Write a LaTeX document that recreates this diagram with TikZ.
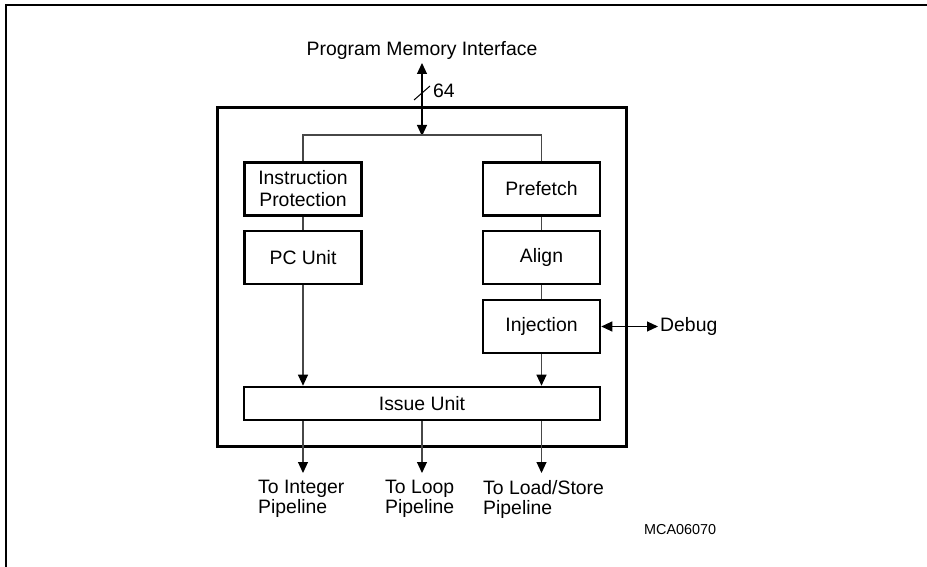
\documentclass[tikz,border=0pt]{standalone}
\usepackage{fontspec}
\setmainfont{Liberation Sans}
\usetikzlibrary{arrows.meta}
\begin{document}
\begin{tikzpicture}[x=1pt,y=-1pt,
  box/.style={draw=black,line width=2.6pt,minimum width=117pt,minimum height=53pt,inner sep=0pt,align=center,font=\fontsize{19.4}{22}\selectfont},
  conn/.style={draw=black!72,line width=1.1pt},
  tip/.style={-{Triangle[length=11pt,width=10pt,color=black]}},
  dtip/.style={{Triangle[length=11pt,width=10pt,color=black]}-{Triangle[length=11pt,width=10pt,color=black]}},
  lbl/.style={font=\fontsize{19.4}{20}\selectfont,inner sep=0pt,align=left}]
\useasboundingbox (0,0) rectangle (927,567);
% page frame (top and left only)
\draw[line width=2pt] (6,567) -- (6,5) -- (927,5);
% outer block
\node[draw,line width=3pt,minimum width=409pt,minimum height=338pt,inner sep=0pt] (outer) at (421.5,277) {};
% boxes
\node[box] (ip) at (303,189) {Instruction\\Protection};
\node[box] (pf) at (541.5,189) {Prefetch};
\node[box] (pc) at (303,257.5) {PC Unit};
\node[box] (al) at (541.5,257.5) {Align};
\node[box] (inj) at (541.5,326.5) {Injection};
\node[box,minimum width=356pt,minimum height=33pt] (iss) at (422,403.5) {Issue Unit};
% labels
\node[lbl] (pmi) at (422,50) {Program Memory Interface};
\node[lbl,anchor=west] (w64) at (433,91) {64};
\node[lbl,anchor=west] (dbg) at (660,326.5) {Debug};
\node[lbl,anchor=west] (tint) at (258,499) {To Integer\\[0pt]Pipeline};
\node[lbl,anchor=west] (tloop) at (385,499) {To Loop\\[0pt]Pipeline};
\node[lbl,anchor=west] (tls) at (483,499) {To Load/Store\\[0pt]Pipeline};
\node[font=\fontsize{14.4}{16}\selectfont,inner sep=0pt,anchor=west] (mca) at (644,530) {MCA06070};
% coordinates
\coordinate (mtop) at (422,63);
\coordinate (mbot) at (422,136);
\coordinate (busL) at (303,135);
\coordinate (busR) at (541.5,135);
\coordinate (o1) at (303,473);
\coordinate (o2) at (422,473);
\coordinate (o3) at (541.5,473);
\coordinate (dend) at (658,326.5);
% memory interface
\draw[conn,dtip,draw=black] (mtop) -- (mbot);
\draw[line width=1pt] (414,100) -- (430,86);
% bus
\draw[conn] (ip.north) -- (busL) -- (busR) -- (pf.north);
% vertical links
\draw[conn] (ip.south) -- (pc.north);
\draw[conn] (pf.south) -- (al.north);
\draw[conn] (al.south) -- (inj.north);
\draw[conn,tip] (pc.south) -- (pc.south |- iss.north);
\draw[conn,tip] (inj.south) -- (inj.south |- iss.north);
% outputs
\draw[conn,tip] (iss.south -| o1) -- (o1);
\draw[conn,tip] (iss.south -| o2) -- (o2);
\draw[conn,tip] (iss.south -| o3) -- (o3);
% debug
\draw[conn,dtip,draw=black] (inj.east) -- (dend);
\end{tikzpicture}
\end{document}
